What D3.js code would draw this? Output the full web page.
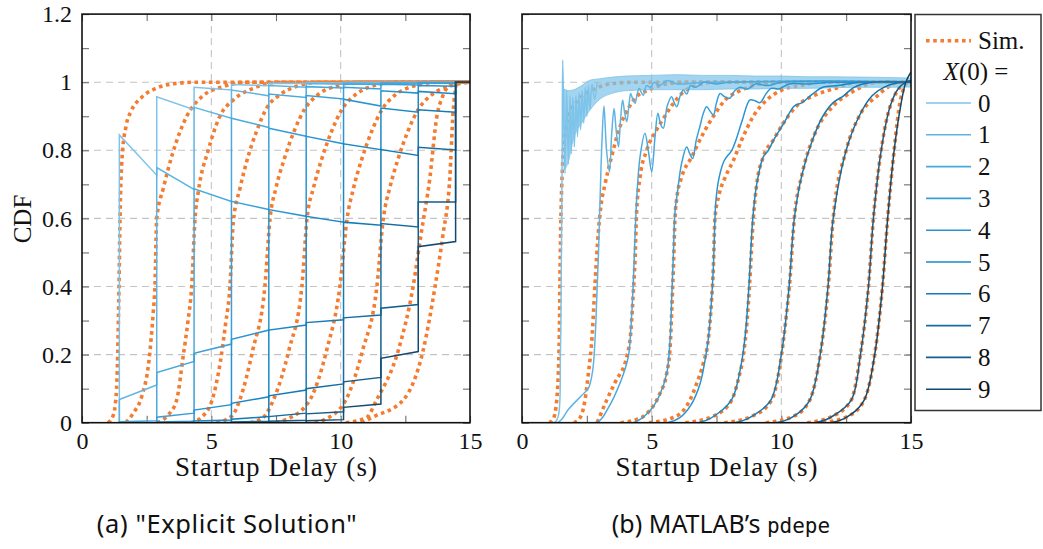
<!DOCTYPE html>
<html>
<head>
<meta charset="utf-8">
<script src="https://cdn.jsdelivr.net/npm/d3@7"></script>
<style>
  body { margin: 0; background: #fff; }
  svg text { font-family: "Liberation Serif", "DejaVu Serif", serif; fill: #111; }
  svg text.caption { font-family: "Noto Sans", "Open Sans", sans-serif; }
</style>
</head>
<body>
<svg id="chart" width="1043" height="549"></svg>
<script>
// ---- data ----
let xMajor = [0, 5, 10, 15];
let xMinor = [2.5, 7.5, 12.5];
let yMajor = [0, 0.2, 0.4, 0.6, 0.8, 1, 1.2];
let yMinor = [0.1, 0.3, 0.5, 0.7, 0.9, 1.1];
let legendLabels = ['0', '1', '2', '3', '4', '5', '6', '7', '8', '9'];
let blueColors = ['#7ec3e9', '#5fb4e3', '#49a9de', '#3a9fd8', '#2794d1', '#1a88c7', '#147bb6', '#156da2', '#155e8b', '#0f4b70'];
let simColor = '#f47c30';

// (a) explicit solution: jump times, then [start, end] value per interval for each X(0)
let jumpTimes = [1.444, 2.889, 4.333, 5.778, 7.222, 8.667, 10.111, 11.556, 13.0, 14.444];
let explicit0 = [[0.845, 0.727], [0.957, 0.919], [0.985, 0.977], [0.993, 0.99], [0.997, 0.996], [0.999, 0.998], [1, 1], [1, 1], [1, 1]];
let explicit1 = [[0.068, 0.111], [0.749, 0.685], [0.926, 0.894], [0.977, 0.96], [0.99, 0.985], [0.996, 0.994], [0.998, 0.997], [0.999, 0.999], [1, 1]];
let explicit2 = [[0.003, 0.006], [0.147, 0.18], [0.687, 0.65], [0.894, 0.867], [0.965, 0.955], [0.987, 0.983], [0.995, 0.993], [0.998, 0.997], [0.999, 0.999]];
let explicit3 = [[0, 0], [0.016, 0.028], [0.204, 0.231], [0.65, 0.626], [0.865, 0.841], [0.961, 0.951], [0.985, 0.98], [0.994, 0.992], [0.998, 0.997]];
let explicit4 = [[0, 0], [0.002, 0.004], [0.037, 0.053], [0.245, 0.272], [0.626, 0.606], [0.841, 0.819], [0.95, 0.93], [0.975, 0.968], [0.99, 0.988]];
let explicit5 = [[0, 0], [0, 0], [0.005, 0.008], [0.057, 0.076], [0.272, 0.287], [0.606, 0.589], [0.819, 0.802], [0.924, 0.912], [0.973, 0.966]];
let explicit6 = [[0, 0], [0, 0], [0, 0.001], [0.01, 0.018], [0.079, 0.096], [0.294, 0.302], [0.589, 0.58], [0.802, 0.785], [0.919, 0.912]];
let explicit7 = [[0, 0], [0, 0], [0, 0], [0.002, 0.004], [0.018, 0.028], [0.1, 0.114], [0.308, 0.316], [0.585, 0.575], [0.809, 0.801]];
let explicit8 = [[0, 0], [0, 0], [0, 0], [0, 0], [0.004, 0.007], [0.026, 0.032], [0.12, 0.133], [0.336, 0.347], [0.648, 0.648]];
let explicit9 = [[0, 0], [0, 0], [0, 0], [0, 0], [0, 0], [0.006, 0.009], [0.045, 0.055], [0.189, 0.209], [0.517, 0.532]];

// (a) simulation CDFs [t, F]
let simA1 = [[1.0, 0], [1.2, 0.02], [1.32, 0.08], [1.38, 0.2], [1.43, 0.4], [1.47, 0.6], [1.55, 0.78], [1.7, 0.87], [1.9, 0.915], [2.3, 0.955], [2.9, 0.983], [3.6, 0.996], [4.4, 1]];
let simA2 = [[1.7, 0], [2.0, 0.03], [2.3, 0.075], [2.6, 0.19], [2.75, 0.32], [2.82, 0.4], [2.89, 0.6], [3.15, 0.69], [3.5, 0.79], [4.05, 0.9], [4.6, 0.955], [5.5, 0.988], [6.4, 1]];
let simA3 = [[2.9, 0], [3.3, 0.02], [3.66, 0.067], [3.92, 0.2], [4.1, 0.3], [4.24, 0.4], [4.37, 0.6], [4.5, 0.68], [4.88, 0.8], [5.33, 0.9], [5.85, 0.948], [6.62, 0.982], [7.6, 1]];
let simA4 = [[4.2, 0], [4.6, 0.015], [5.0, 0.06], [5.35, 0.18], [5.55, 0.29], [5.72, 0.4], [5.85, 0.59], [6.11, 0.689], [6.37, 0.768], [6.75, 0.856], [7.14, 0.924], [7.65, 0.963], [8.3, 0.988], [9.2, 1]];
let simA5 = [[5.2, 0], [5.8, 0.02], [6.1, 0.067], [6.6, 0.213], [7.07, 0.4], [7.27, 0.6], [7.5, 0.69], [7.8, 0.77], [8.2, 0.856], [8.6, 0.92], [9.1, 0.962], [9.8, 0.988], [10.8, 1]];
let simA6 = [[6.5, 0], [7.0, 0.015], [7.4, 0.067], [8.0, 0.213], [8.5, 0.4], [8.7, 0.6], [8.95, 0.69], [9.25, 0.77], [9.65, 0.856], [10.05, 0.92], [10.55, 0.962], [11.2, 0.988], [12.2, 1]];
let simA7 = [[7.5, 0], [7.91, 0.01], [8.81, 0.067], [9.46, 0.213], [9.97, 0.4], [10.25, 0.6], [10.5, 0.69], [10.8, 0.77], [11.2, 0.856], [11.6, 0.92], [12.1, 0.962], [12.8, 0.988], [13.8, 1]];
let simA8 = [[9.0, 0], [9.4, 0.01], [10.2, 0.067], [10.85, 0.213], [11.4, 0.4], [11.65, 0.6], [11.9, 0.69], [12.2, 0.77], [12.6, 0.856], [13.0, 0.92], [13.5, 0.962], [14.2, 0.988], [15, 1]];
let simA9 = [[10.2, 0], [11.0, 0.015], [11.39, 0.067], [12.23, 0.213], [12.8, 0.4], [13.1, 0.55], [13.45, 0.72], [13.71, 0.895], [13.95, 0.96], [14.3, 0.995], [14.5, 1]];
let simA10 = [[10.8, 0], [11.26, 0.017], [12.42, 0.067], [13.19, 0.213], [13.65, 0.4], [13.95, 0.55], [14.22, 0.72], [14.35, 0.915], [14.42, 0.97], [14.5, 1]];

// (b) simulation CDFs [t, F]
let simB1 = [[1.05, 0], [1.2, 0.01], [1.34, 0.067], [1.44, 0.26], [1.47, 0.46], [1.5, 0.6], [1.56, 0.75], [1.65, 0.84], [1.8, 0.9], [2.2, 0.95], [2.8, 0.98], [3.6, 0.997], [4.5, 1]];
let simB2 = [[2.0, 0], [2.2, 0.01], [2.43, 0.067], [2.56, 0.145], [2.7, 0.25], [2.81, 0.4], [2.94, 0.556], [3.05, 0.64], [3.2, 0.7], [3.45, 0.78], [3.78, 0.87], [4.1, 0.923], [4.36, 0.953], [4.87, 0.977], [5.6, 0.995], [6.5, 1]];
let simB3 = [[2.9, 0], [3.27, 0.067], [3.6, 0.12], [4.04, 0.194], [4.2, 0.27], [4.29, 0.38], [4.36, 0.48], [4.42, 0.62], [4.55, 0.72], [4.81, 0.8], [5.19, 0.86], [5.51, 0.9], [5.84, 0.938], [6.16, 0.967], [6.7, 0.99], [7.5, 1]];
let simB4 = [[3.8, 0], [4.6, 0.015], [4.94, 0.037], [5.32, 0.086], [5.58, 0.145], [5.71, 0.22], [5.77, 0.32], [5.84, 0.46], [5.9, 0.6], [5.97, 0.66], [6.16, 0.722], [6.54, 0.78], [6.99, 0.85], [7.38, 0.9], [7.8, 0.945], [8.41, 0.975], [9.2, 0.995], [10, 1]];
let simB5 = [[4.9, 0], [5.97, 0.02], [6.48, 0.067], [6.74, 0.116], [6.99, 0.174], [7.18, 0.243], [7.31, 0.36], [7.38, 0.458], [7.44, 0.6], [7.6, 0.67], [7.83, 0.72], [8.15, 0.77], [8.47, 0.83], [8.92, 0.9], [9.44, 0.948], [10.08, 0.979], [10.72, 0.99], [11.5, 1]];
let simB6 = [[6.3, 0], [7.4, 0.02], [8.09, 0.067], [8.35, 0.13], [8.54, 0.2], [8.68, 0.3], [8.77, 0.4], [8.92, 0.6], [9.05, 0.7], [9.3, 0.78], [9.69, 0.83], [10.08, 0.88], [10.59, 0.93], [11.23, 0.96], [12.0, 0.98], [13, 1]];
let simB7 = [[7.8, 0], [8.9, 0.02], [9.63, 0.067], [10.01, 0.2], [10.2, 0.32], [10.31, 0.4], [10.5, 0.6], [10.8, 0.73], [11.3, 0.85], [12.0, 0.93], [12.7, 0.97], [13.8, 1]];
let simB8 = [[9.4, 0], [10.5, 0.02], [11.1, 0.067], [11.5, 0.2], [11.81, 0.4], [12.0, 0.6], [12.5, 0.8], [13.0, 0.9], [13.7, 0.96], [14.6, 1]];
let simB9 = [[11.0, 0], [12.0, 0.02], [12.7, 0.067], [13.05, 0.2], [13.36, 0.4], [13.55, 0.6], [13.85, 0.8], [14.3, 0.95], [14.9, 1]];
let simB10 = [[11.6, 0], [12.6, 0.02], [13.2, 0.067], [13.6, 0.2], [13.9, 0.4], [14.1, 0.6], [14.35, 0.8], [14.6, 0.95], [14.9, 1]];

// (b) pdepe solutions [t, F]
let pdepe0 = [[0, 0], [1.25, 0], [1.4, 0.02], [1.48, 0.2], [1.52, 0.5], [1.55, 0.8], [1.57, 1.065], [1.62, 0.85], [1.66, 0.732], [1.72, 0.977], [1.79, 0.76], [1.85, 0.96], [1.9, 0.79], [1.96, 0.955], [2.02, 0.81], [2.08, 0.96], [2.14, 0.84], [2.2, 0.97], [2.26, 0.86], [2.32, 0.975], [2.38, 0.88], [2.44, 0.985], [2.5, 0.9], [2.56, 0.99], [2.62, 0.92], [2.7, 0.995], [2.8, 0.95], [2.9, 1.0]];
let pdepe0Band = [[1.62, 0.74, 0.98], [1.8, 0.77, 0.975], [1.97, 0.83, 0.977], [2.3, 0.88, 0.99], [2.62, 0.918, 1.006], [3.0, 0.95, 1.01], [3.5, 0.968, 1.015], [4.0, 0.975, 1.018], [5.0, 0.978, 1.02], [6.0, 0.978, 1.022], [7.0, 0.978, 1.02], [8.0, 0.98, 1.02], [9.0, 0.98, 1.018], [10.0, 0.982, 1.018], [11.0, 0.982, 1.016], [12.0, 0.984, 1.016], [13.0, 0.985, 1.015], [14.0, 0.985, 1.014], [15.0, 0.986, 1.012]];
let pdepe1 = [[0, 0], [1.38, 0], [1.8, 0.04], [2.3, 0.08], [2.56, 0.101], [2.72, 0.15], [2.82, 0.25], [2.88, 0.36], [2.95, 0.5], [3.01, 0.654], [3.08, 0.82], [3.16, 0.93], [3.26, 0.8], [3.37, 0.737], [3.46, 0.85], [3.55, 0.923], [3.63, 0.86], [3.72, 0.81], [3.8, 0.89], [3.88, 0.948], [3.96, 0.91], [4.04, 0.884], [4.12, 0.93], [4.19, 0.967], [4.27, 0.95], [4.36, 0.938], [4.44, 0.965], [4.52, 0.982], [4.6, 0.97], [4.68, 0.962], [4.8, 0.99], [4.95, 0.985], [5.1, 1.0], [5.3, 0.99], [5.6, 1.005], [6.0, 0.995], [7, 1.0], [15, 1.0]];
let pdepe2 = [[0, 0], [2.88, 0], [3.3, 0.04], [3.8, 0.12], [4.1, 0.194], [4.2, 0.28], [4.29, 0.408], [4.36, 0.55], [4.42, 0.654], [4.55, 0.78], [4.74, 0.85], [4.87, 0.8], [5.0, 0.737], [5.13, 0.84], [5.24, 0.909], [5.35, 0.875], [5.45, 0.865], [5.6, 0.93], [5.77, 0.957], [5.87, 0.94], [5.97, 0.928], [6.1, 0.96], [6.22, 0.977], [6.35, 0.965], [6.5, 0.99], [6.7, 0.985], [7.0, 1.0], [7.5, 0.995], [8, 1.0], [15, 1.0]];
let pdepe3 = [[0, 0], [4.29, 0], [4.94, 0.036], [5.3, 0.08], [5.58, 0.145], [5.71, 0.243], [5.77, 0.36], [5.84, 0.5], [5.9, 0.62], [6.0, 0.68], [6.15, 0.76], [6.35, 0.81], [6.47, 0.79], [6.58, 0.776], [6.72, 0.83], [6.86, 0.87], [7.0, 0.91], [7.12, 0.928], [7.25, 0.915], [7.38, 0.904], [7.5, 0.94], [7.64, 0.967], [7.8, 0.958], [8.02, 0.953], [8.2, 0.975], [8.4, 0.985], [8.7, 0.98], [9.0, 0.995], [9.5, 0.99], [10, 1.0], [15, 1.0]];
let pdepe4 = [[0, 0], [5.6, 0], [6.09, 0.015], [6.5, 0.05], [6.86, 0.113], [7.05, 0.18], [7.18, 0.243], [7.3, 0.35], [7.38, 0.458], [7.48, 0.654], [7.6, 0.72], [7.8, 0.77], [8.09, 0.8], [8.25, 0.83], [8.5, 0.89], [8.79, 0.948], [9.0, 0.945], [9.18, 0.94], [9.4, 0.965], [9.6, 0.982], [9.9, 0.98], [10.3, 0.995], [11, 0.995], [12, 1.0], [15, 1.0]];
let pdepe5 = [[0, 0], [6.8, 0], [7.6, 0.03], [8.1, 0.07], [8.4, 0.15], [8.6, 0.25], [8.75, 0.4], [8.9, 0.6], [9.05, 0.7], [9.3, 0.78], [9.5, 0.8], [9.7, 0.83], [10.1, 0.88], [10.5, 0.93], [10.8, 0.94], [11.2, 0.965], [11.6, 0.985], [12.2, 0.99], [13, 1], [15, 1]];
let pdepe6 = [[0, 0], [8.2, 0], [9.0, 0.025], [9.6, 0.067], [10.0, 0.2], [10.3, 0.4], [10.5, 0.6], [10.8, 0.73], [11.2, 0.83], [11.6, 0.9], [12.0, 0.94], [12.4, 0.96], [12.8, 0.985], [13.5, 1], [15, 1]];
let pdepe7 = [[0, 0], [9.8, 0], [10.6, 0.025], [11.1, 0.067], [11.5, 0.2], [11.8, 0.4], [12.0, 0.6], [12.5, 0.8], [13.0, 0.9], [13.5, 0.96], [14.1, 0.99], [14.7, 1], [15, 1]];
let pdepe8 = [[0, 0], [11.3, 0], [12.1, 0.025], [12.7, 0.067], [13.05, 0.2], [13.36, 0.4], [13.55, 0.6], [13.85, 0.8], [14.2, 0.93], [14.5, 0.98], [14.8, 1], [15, 1.005]];
let pdepe9 = [[0, 0], [11.9, 0], [12.7, 0.025], [13.2, 0.067], [13.6, 0.2], [13.9, 0.4], [14.1, 0.6], [14.35, 0.8], [14.6, 0.93], [14.8, 1.0], [15, 1.03]];

let explicitSeries = [explicit0, explicit1, explicit2, explicit3, explicit4, explicit5, explicit6, explicit7, explicit8, explicit9];
let simASeries = [simA1, simA2, simA3, simA4, simA5, simA6, simA7, simA8, simA9, simA10];
let simBSeries = [simB1, simB2, simB3, simB4, simB5, simB6, simB7, simB8, simB9, simB10];
let pdepeSeries = [pdepe0, pdepe1, pdepe2, pdepe3, pdepe4, pdepe5, pdepe6, pdepe7, pdepe8, pdepe9];

// ---- layout ----
let config = {
    top: 14.1, bottom: 422.7,
    left: {x0: 82, x1: 470},
    right: {x0: 522, x1: 911},
    legend: {x: 915, y: 14.5, width: 126, height: 396}
};

let svg = d3.select('#chart');
let y = d3.scaleLinear().domain([0, 1.2]).range([config.bottom, config.top]);
let xA = d3.scaleLinear().domain([0, 15]).range([config.left.x0, config.left.x1]);
let xB = d3.scaleLinear().domain([0, 15]).range([config.right.x0, config.right.x1]);

let dotted = {width: 3.6, dash: '3.6,3.6'};

function drawFrame(x, id, withYLabels) {
    let g = svg.append('g');
    let [x0, x1] = x.range();

    svg.append('clipPath').attr('id', id)
        .append('rect')
        .attr('x', x0).attr('y', config.top)
        .attr('width', x1 - x0).attr('height', config.bottom - config.top);

    // dashed grid
    g.selectAll('.gx').data([5, 10]).join('line')
        .attr('x1', d => x(d)).attr('x2', d => x(d))
        .attr('y1', config.top).attr('y2', config.bottom)
        .attr('stroke', '#c4c4c4').attr('stroke-width', 1.1).attr('stroke-dasharray', '7,5');
    g.selectAll('.gy').data([0.2, 0.4, 0.6, 0.8, 1]).join('line')
        .attr('x1', x0).attr('x2', x1)
        .attr('y1', d => y(d)).attr('y2', d => y(d))
        .attr('stroke', '#c4c4c4').attr('stroke-width', 1.1).attr('stroke-dasharray', '7,5');

    // ticks on all four sides, pointing inward
    let allX = xMajor.concat(xMinor);
    let allY = yMajor.concat(yMinor);
    let axes = [
        g.append('g').attr('transform', `translate(0,${config.bottom})`)
            .call(d3.axisBottom(x).tickValues(allX).tickSize(-7).tickPadding(9)
                .tickFormat(d => xMajor.includes(d) ? d : '')),
        g.append('g').attr('transform', `translate(0,${config.top})`)
            .call(d3.axisTop(x).tickValues(allX).tickSize(-7).tickFormat('')),
        g.append('g').attr('transform', `translate(${x0},0)`)
            .call(d3.axisLeft(y).tickValues(allY).tickSize(-7).tickPadding(10)
                .tickFormat(d => (withYLabels && yMajor.includes(d)) ? d : '')),
        g.append('g').attr('transform', `translate(${x1},0)`)
            .call(d3.axisRight(y).tickValues(allY).tickSize(-7).tickFormat(''))
    ];
    axes.forEach(a => {
        a.select('.domain').remove();
        a.selectAll('.tick line').attr('stroke', '#6e6e6e').attr('stroke-width', 1.1);
        a.selectAll('.tick text').attr('font-size', 24).attr('fill', '#111');
    });

    g.append('text')
        .attr('x', (x0 + x1) / 2).attr('y', 476)
        .attr('text-anchor', 'middle').attr('font-size', 27)
        .attr('textLength', 202).attr('lengthAdjust', 'spacing')
        .text('Startup Delay (s)');

    return g;
}

function drawBorder(x) {
    let [x0, x1] = x.range();
    svg.append('rect')
        .attr('x', x0).attr('y', config.top)
        .attr('width', x1 - x0).attr('height', config.bottom - config.top)
        .attr('fill', 'none').attr('stroke', '#111').attr('stroke-width', 1.6);
}

// ---- panel (a) ----
drawFrame(xA, 'clipA', true);
let plotA = svg.append('g').attr('clip-path', 'url(#clipA)');

let simLineA = d3.line().x(d => xA(d[0])).y(d => y(d[1])).curve(d3.curveMonotoneX);
plotA.selectAll('.simA').data(simASeries).join('path')
    .attr('d', d => simLineA(d.concat([[15, 1]])))
    .attr('fill', 'none').attr('stroke', simColor)
    .attr('stroke-width', dotted.width).attr('stroke-dasharray', dotted.dash);

// build the piecewise path of each explicit solution from its interval values
function stepPoints(segs) {
    let pts = [[0, 0], [jumpTimes[0], 0]];
    segs.forEach((s, k) => {
        pts.push([jumpTimes[k], s[0]]);
        pts.push([jumpTimes[k + 1], s[1]]);
    });
    pts.push([jumpTimes[jumpTimes.length - 1], 1]);
    pts.push([15, 1]);
    return pts;
}
let stepLine = d3.line().x(d => xA(d[0])).y(d => y(d[1]));
plotA.selectAll('.expl').data(explicitSeries).join('path')
    .attr('d', d => stepLine(stepPoints(d)))
    .attr('fill', 'none')
    .attr('stroke', (d, i) => blueColors[i])
    .attr('stroke-width', 1.5);

drawBorder(xA);

svg.append('text')
    .attr('transform', 'translate(31,219) rotate(-90)')
    .attr('text-anchor', 'middle').attr('font-size', 25)
    .text('CDF');

// ---- panel (b) ----
drawFrame(xB, 'clipB', false);
let plotB = svg.append('g').attr('clip-path', 'url(#clipB)');

let simLineB = d3.line().x(d => xB(d[0])).y(d => y(d[1])).curve(d3.curveMonotoneX);
plotB.selectAll('.simB').data(simBSeries).join('path')
    .attr('d', d => simLineB(d.concat([[15, 1]])))
    .attr('fill', 'none').attr('stroke', simColor)
    .attr('stroke-width', dotted.width).attr('stroke-dasharray', dotted.dash);

// noisy band of the X(0)=0 solution
plotB.append('path')
    .attr('d', d3.area()
        .x(d => xB(d[0])).y0(d => y(d[1])).y1(d => y(d[2]))
        .curve(d3.curveMonotoneX)(pdepe0Band))
    .attr('fill', blueColors[0]).attr('fill-opacity', 0.7)
    .attr('stroke', blueColors[0]).attr('stroke-width', 0.8);

let pdeLine = d3.line().x(d => xB(d[0])).y(d => y(d[1])).curve(d3.curveCatmullRom.alpha(0.5));
plotB.selectAll('.pde').data(pdepeSeries).join('path')
    .attr('d', d => pdeLine(d))
    .attr('fill', 'none')
    .attr('stroke', (d, i) => blueColors[i])
    .attr('stroke-width', 1.5);

drawBorder(xB);

// ---- legend ----
let lg = config.legend;
let legend = svg.append('g');
legend.append('rect')
    .attr('x', lg.x).attr('y', lg.y).attr('width', lg.width).attr('height', lg.height)
    .attr('fill', '#fff').attr('stroke', '#333').attr('stroke-width', 1.5);

legend.append('line')
    .attr('x1', 926).attr('x2', 971).attr('y1', 40.7).attr('y2', 40.7)
    .attr('stroke', simColor).attr('stroke-width', dotted.width).attr('stroke-dasharray', dotted.dash);
legend.append('text').attr('x', 978).attr('y', 49).attr('font-size', 25).text('Sim.');

let head = legend.append('text').attr('x', 976).attr('y', 80)
    .attr('text-anchor', 'middle').attr('font-size', 25);
head.append('tspan').attr('font-style', 'italic').text('X');
head.append('tspan').text('(0) =');

let rows = legend.selectAll('.row').data(legendLabels).join('g')
    .attr('transform', (d, i) => `translate(0,${103 + i * 31.8})`);
rows.append('line')
    .attr('x1', 926).attr('x2', 971)
    .attr('stroke', (d, i) => blueColors[i]).attr('stroke-width', 1.6);
rows.append('text')
    .attr('x', 978).attr('y', 8.5).attr('font-size', 25)
    .text(d => d);

// ---- captions ----
svg.append('text').attr('class', 'caption')
    .attr('x', 227).attr('y', 533).attr('text-anchor', 'middle').attr('font-size', 25.5)
    .attr('letter-spacing', 0.6)
    .text('(a) "Explicit Solution"');

let capB = svg.append('text').attr('class', 'caption')
    .attr('x', 721).attr('y', 533).attr('text-anchor', 'middle').attr('font-size', 25);
capB.append('tspan').text('(b) MATLAB’s ');
capB.append('tspan').attr('style', 'font-family: "DejaVu Sans Mono", "Liberation Mono", monospace')
    .attr('font-size', 21).text('pdepe');
</script>
</body>
</html>
